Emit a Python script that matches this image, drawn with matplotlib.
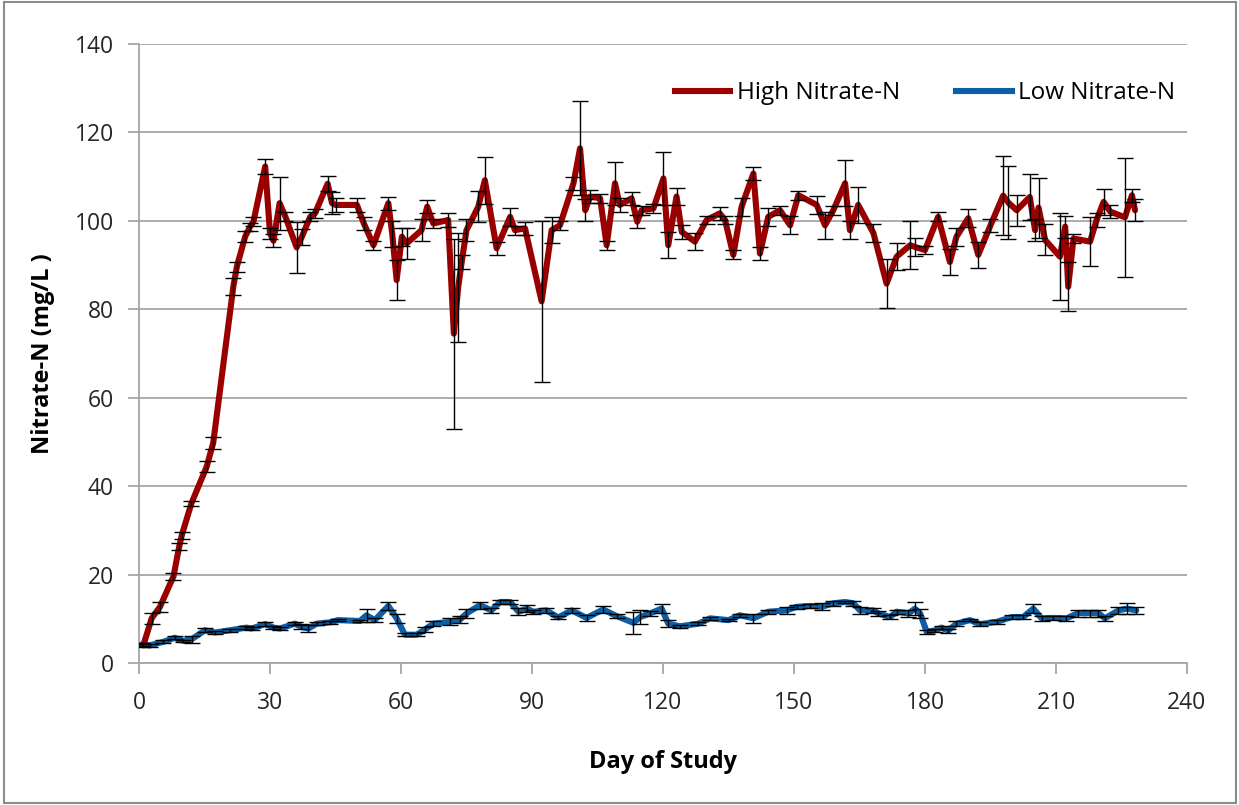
import matplotlib
matplotlib.use("Agg")
import matplotlib.pyplot as plt
from matplotlib.patches import Rectangle
from matplotlib.lines import Line2D

plt.rcParams['font.family'] = ['Open Sans', 'DejaVu Sans']

# ---- data ----
high_day = [1.0, 2.9, 4.8, 7.9, 9.2, 9.8, 12.0, 15.5, 17.0, 21.6, 22.4, 24.3, 25.4, 26.2,
            28.9, 30.0, 30.8, 32.2, 33.5, 36.1, 37.3, 39.2, 40.3, 43.2, 44.2, 45.0, 49.9,
            51.5, 53.7, 57.1, 58.0, 59.0, 60.2, 61.3, 64.7, 66.0, 67.4, 70.8, 72.1, 73.1,
            73.9, 75.0, 77.7, 79.2, 81.9, 85.0, 86.1, 88.4, 92.2, 94.5, 96.4, 99.5, 101.0,
            102.2, 103.3, 105.6, 107.1, 109.0, 110.1, 112.8, 114.1, 115.1, 117.8, 120.1,
            121.2, 123.1, 124.3, 127.3, 130.0, 133.0, 134.2, 136.1, 138.0, 140.7, 142.2,
            144.1, 146.8, 149.1, 151.0, 155.2, 157.1, 159.0, 161.7, 162.8, 164.7, 168.2,
            171.2, 173.5, 176.6, 177.7, 180.0, 183.0, 185.7, 187.2, 189.9, 192.2, 195.0,
            197.9, 199.1, 201.0, 204.0, 205.2, 206.0, 207.5, 210.9, 212.1, 212.8, 214.0,
            217.8, 219.3, 220.9, 222.4, 225.8, 227.4, 228.1]
high_val = [4.0, 10.1, 12.7, 19.6, 26.3, 28.9, 36.1, 44.4, 49.8, 85.1, 89.6, 96.4, 98.6, 99.8,
            112.3, 97.2, 95.5, 104.0, 101.0, 94.0, 96.4, 100.9, 101.7, 108.4, 104.0, 103.6, 103.6,
            99.4, 94.5, 104.0, 97.0, 86.6, 96.4, 94.9, 97.9, 103.2, 99.4, 100.2, 74.5, 85.0,
            90.7, 97.9, 103.2, 109.2, 93.8, 100.9, 97.9, 98.3, 81.8, 97.9, 99.0, 108.5, 116.4,
            102.4, 105.5, 105.1, 94.5, 108.5, 103.6, 105.1, 99.8, 102.4, 102.8, 109.6,
            94.5, 105.5, 97.5, 95.3, 100.2, 101.7, 100.2, 92.3, 103.2, 110.7, 92.6,
            100.9, 102.4, 99.0, 105.8, 103.6, 99.0, 102.4, 108.5, 97.9, 103.6, 97.2,
            85.8, 91.9, 94.5, 94.1, 93.4, 100.9, 90.7, 96.4, 100.6, 92.3, 99.0,
            105.7, 104.1, 102.4, 105.4, 97.9, 103.0, 95.7, 91.9, 98.7, 85.1, 96.0,
            95.3, 100.2, 104.3, 102.1, 100.8, 105.8, 102.4]
high_err = [0.3, 1.2, 1.2, 0.8, 0.8, 0.8, 0.6, 1.2, 1.4, 1.9, 1.2, 1.2, 1.0, 1.0,
            1.8, 1.2, 1.5, 6.0, 1.0, 5.8, 1.8, 1.0, 1.0, 1.7, 2.5, 1.5, 1.5,
            1.5, 1.0, 1.5, 3.0, 4.5, 2.0, 3.5, 2.5, 1.5, 1.0, 1.5, 21.5, 12.3,
            1.5, 2.5, 3.5, 5.3, 1.5, 2.0, 1.0, 1.5, 18.2, 3.0, 1.0, 1.5, 10.6,
            2.5, 1.5, 1.0, 1.0, 4.9, 1.5, 1.5, 1.5, 1.0, 1.0, 6.0,
            3.0, 2.0, 1.5, 2.0, 1.0, 1.5, 1.0, 1.0, 2.0, 1.5, 1.5,
            2.0, 1.0, 2.0, 1.0, 2.0, 3.0, 1.0, 5.2, 2.0, 4.0, 2.0,
            5.5, 3.0, 5.4, 2.0, 1.0, 1.0, 3.0, 2.0, 2.0, 3.0, 1.5,
            8.9, 8.3, 3.5, 5.2, 2.5, 6.8, 3.5, 9.8, 2.5, 5.5, 1.0,
            5.5, 1.5, 3.0, 1.5, 13.5, 1.5, 2.5]

low_day = [0.6, 2.5, 5.6, 8.2, 10.1, 12.1, 15.1, 17.4, 20.8, 24.6, 25.8, 28.9, 30.8, 32.3,
           35.7, 37.1, 38.8, 40.7, 43.7, 45.6, 50.6, 52.1, 54.0, 57.1, 59.0, 60.9, 63.6, 65.5,
           67.4, 71.2, 73.5, 75.0, 78.1, 80.7, 82.7, 85.0, 86.9, 88.8, 90.3, 93.3, 96.0, 99.1,
           102.5, 106.3, 109.4, 113.2, 114.8, 117.0, 119.7, 121.2, 123.9, 128.1, 130.8, 135.0,
           137.6, 140.7, 144.1, 148.3, 150.6, 153.7, 156.3, 159.0, 161.7, 163.6, 165.1, 168.2,
           169.3, 172.0, 173.5, 176.2, 177.7, 178.9, 180.4, 182.3, 183.8, 185.3, 187.2, 190.3,
           192.6, 196.4, 199.9, 202.5, 204.8, 206.7, 209.4, 212.4, 215.1, 217.8, 219.7, 221.2,
           224.3, 226.2, 228.4]
low_val = [4.2, 4.0, 4.8, 5.7, 5.0, 5.4, 7.4, 6.9, 7.4, 8.0, 7.8, 8.8, 8.0, 7.8,
           8.9, 8.2, 7.8, 8.9, 9.2, 9.7, 9.5, 10.8, 9.7, 12.9, 10.1, 6.4, 6.4, 7.6,
           8.9, 9.3, 9.8, 11.2, 13.1, 11.9, 13.8, 13.8, 11.6, 12.3, 11.6, 11.9, 10.3, 11.9,
           10.2, 12.1, 10.6, 9.1, 10.4, 11.2, 12.3, 8.9, 8.3, 8.9, 10.1, 9.7,
           10.8, 10.1, 11.6, 11.9, 12.7, 12.9, 12.7, 13.5, 13.8, 13.5, 11.9, 11.9,
           11.2, 10.4, 11.6, 11.2, 12.3, 11.2, 7.0, 7.4, 8.0, 7.3, 8.9, 9.7,
           8.8, 9.3, 10.4, 10.4, 12.3, 10.1, 10.2, 10.1, 11.3, 11.3, 11.3, 10.1,
           11.9, 12.3, 11.9]
low_err = [0.3, 0.3, 0.3, 0.3, 0.3, 0.8, 0.5, 0.3, 0.3, 0.3, 0.3, 0.4, 0.4, 0.3,
           0.4, 0.6, 0.8, 0.3, 0.4, 0.3, 0.3, 1.5, 0.4, 1.0, 1.0, 0.3, 0.3, 0.5,
           0.5, 0.8, 0.8, 1.0, 0.8, 0.5, 0.5, 0.5, 0.8, 0.8, 0.5, 0.5, 0.3, 0.5,
           0.6, 0.8, 0.5, 2.5, 1.5, 0.5, 1.0, 0.8, 0.3, 0.3, 0.3, 0.3,
           0.3, 1.0, 0.5, 0.8, 0.5, 0.5, 0.8, 0.5, 0.3, 0.5, 0.8, 0.5,
           0.5, 0.5, 0.5, 0.8, 1.5, 1.0, 0.5, 0.3, 0.3, 0.5, 0.5, 0.3,
           0.5, 0.5, 0.5, 0.5, 1.0, 0.5, 0.5, 0.5, 0.8, 0.8, 0.8, 0.5,
           0.8, 1.2, 0.8]

x_ticks = [0, 30, 60, 90, 120, 150, 180, 210, 240]
y_ticks = [0, 20, 40, 60, 80, 100, 120, 140]
series_names = ["High Nitrate-N", "Low Nitrate-N"]
colors = ["#9B0000", "#0E5FA6"]

# ---- figure ----
W, H = 1239, 805
fig = plt.figure(figsize=(W / 100, H / 100), dpi=100)
ax = fig.add_axes([139 / W, 1 - 663 / H, (1187 - 139) / W, (663 - 44) / H])

# chart-area border
fig.patches.append(Rectangle((4 / W, 2 / H), (1236 - 4) / W, (803 - 2) / H,
                             transform=fig.transFigure, fill=False,
                             edgecolor="#8c8c8c", linewidth=1.5, zorder=0))

grid_c = "#A6A6A6"
ax.set_xlim(0, 240)
ax.set_ylim(0, 140)
ax.set_xticks(x_ticks)
ax.set_yticks(y_ticks)
ax.yaxis.grid(True, color=grid_c, linewidth=1.3)
ax.set_axisbelow(True)
for s in ["top", "right"]:
    ax.spines[s].set_visible(False)
for s in ["left", "bottom"]:
    ax.spines[s].set_color(grid_c)
    ax.spines[s].set_linewidth(1.3)
ax.tick_params(axis="both", direction="out", length=8, width=1.3, color=grid_c,
               labelsize=16.5, labelcolor="#262626")
ax.tick_params(axis="x", pad=12)
ax.tick_params(axis="y", pad=10)

lw = 4.4
ax.plot(low_day, low_val, color=colors[1], linewidth=lw, solid_joinstyle="round",
        solid_capstyle="round", zorder=3)
ax.errorbar(low_day, low_val, yerr=low_err, fmt="none", ecolor="black",
            elinewidth=1.0, capsize=6, capthick=1.0, zorder=4)
ax.plot(high_day, high_val, color=colors[0], linewidth=lw, solid_joinstyle="round",
        solid_capstyle="round", zorder=3)
ax.errorbar(high_day, high_val, yerr=high_err, fmt="none", ecolor="black",
            elinewidth=1.0, capsize=6, capthick=1.0, zorder=4)

ax.set_xlabel("Day of Study", fontsize=17, fontweight="bold", labelpad=25, color="black")
ax.set_ylabel("Nitrate-N (mg/L )", fontsize=17, fontweight="bold", labelpad=14, color="black")

handles = [Line2D([0], [0], color=colors[0], linewidth=lw),
           Line2D([0], [0], color=colors[1], linewidth=lw)]
fig.legend(handles, series_names, loc="upper right", bbox_to_anchor=(0.958, 0.914),
           ncol=2, frameon=False, fontsize=17.5, handlelength=2.3, handletextpad=0.25,
           columnspacing=2.3, borderpad=0)

fig.savefig("out.png", dpi=100)
